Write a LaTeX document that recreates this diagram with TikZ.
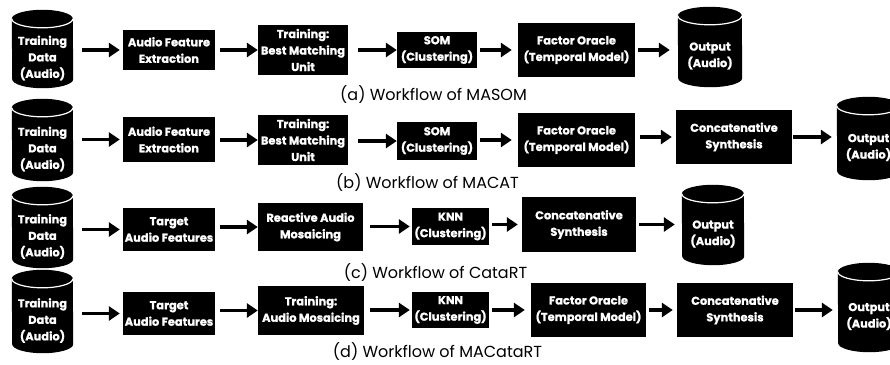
\documentclass[tikz,border=0pt]{standalone}
\usepackage{fontspec}
\setmainfont{Poppins}[BoldFeatures={FakeBold=1}]
\usetikzlibrary{arrows.meta,backgrounds}
\tikzset{
  x=1pt, y=-1pt,
  txt/.style={text=white, font=\bfseries\fontsize{11.4}{16.5}\selectfont, align=center, inner sep=0pt},
  box/.style={txt, fill=black},
  arr/.style={line width=3.6pt, -{Triangle[length=11pt,width=14pt]}},
  captxt/.style={font=\fontsize{16}{18}\selectfont, inner sep=0pt}
}
% name, cx, cy, w, h, text
\newcommand\mybox[6]{\node[box, minimum width=#4pt, minimum height=#5pt] (#1) at (#2,#3) {#6};}
% name, left, right, top, bottom, text
\newcommand\mycyl[6]{%
  \node[txt, minimum width={#3pt-#2pt}, minimum height={#5pt-#4pt-18pt}] (#1) at ({(#2+#3)/2},{(#4+18+#5)/2}) {#6};
  \begin{scope}[on background layer]
    \fill ([yshift=9pt]#1.north west) arc[start angle=180,end angle=0,x radius={(#3pt-#2pt)/2},y radius=9pt]
      -- ([yshift=9pt]#1.south east) arc[start angle=0,end angle=-180,x radius={(#3pt-#2pt)/2},y radius=9pt] -- cycle;
    \draw[white, line width=1.2pt] ([yshift=9pt]#1.north west) arc[start angle=180,end angle=360,x radius={(#3pt-#2pt)/2},y radius=9pt];
  \end{scope}}
% from, to, shorten start, shorten end
\newcommand\bb[4]{\draw[arr, shorten <=#3pt, shorten >=#4pt] (#1.east |- #2.west) -- (#2.west);}
\newcommand\bc[4]{\draw[arr, shorten <=#3pt, shorten >=#4pt] (#1.east) -- (#1.east -| #2.west);}
\begin{document}
\begin{tikzpicture}
\useasboundingbox (0,0) rectangle (890,364);
% ---- row a
\mycyl{ain}{12}{73}{10}{88}{Training\\Data\\(Audio)}
\mybox{a1}{169}{50}{92}{40}{Audio Feature\\Extraction}
\mybox{a2}{303}{50}{90}{50}{Training:\\Best Matching\\Unit}
\mybox{a3}{437}{50}{80}{36}{SOM\\(Clustering)}
\mybox{a4}{576.5}{50}{117}{54}{Factor Oracle\\(Temporal Model)}
\mycyl{aout}{678}{742}{7}{87}{Output\\(Audio)}
\bb{ain}{a1}{9}{3}
\bb{a1}{a2}{5}{0}
\bb{a2}{a3}{10}{0}
\bb{a3}{a4}{3}{6}
\bc{a4}{aout}{3}{8}
\node[captxt] (capa) at (433.5,95) {(a) Workflow of MASOM};
% ---- row b
\mycyl{bin}{12}{73}{99}{181}{Training\\Data\\(Audio)}
\mybox{b1}{169}{139.5}{92}{45}{Audio Feature\\Extraction}
\mybox{b2}{303}{140}{90}{50}{Training:\\Best Matching\\Unit}
\mybox{b3}{437}{141}{80}{38}{SOM\\(Clustering)}
\mybox{b4}{576.5}{140}{117}{54}{Factor Oracle\\(Temporal Model)}
\mybox{b5}{734}{137}{116}{54}{Concatenative\\Synthesis}
\mycyl{bout}{837}{900}{97}{180}{Output\\(Audio)}
\bb{bin}{b1}{9}{3}
\bb{b1}{b2}{5}{0}
\bb{b2}{b3}{10}{0}
\bb{b3}{b4}{3}{6}
\bb{b4}{b5}{5}{4}
\bc{b5}{bout}{1}{5}
\node[captxt] (capb) at (427.5,183) {(b) Workflow of MACAT};
% ---- row c
\mycyl{cin}{12}{73}{187}{268}{Training\\Data\\(Audio)}
\mybox{c1}{169}{229.5}{92}{43}{Target\\Audio Features}
\mybox{c2}{310.5}{227}{105}{48}{Reactive Audio\\Mosaicing}
\mybox{c3}{450.5}{226.5}{77}{37}{KNN\\(Clustering)}
\mybox{c4}{579}{224.5}{114}{55}{Concatenative\\Synthesis}
\mycyl{cout}{682}{744}{185}{265}{Output\\(Audio)}
\bb{cin}{c1}{9}{3}
\bb{c1}{c2}{5}{0}
\bb{c2}{c3}{7}{2}
\bb{c3}{c4}{3}{4}
\bc{c4}{cout}{3}{7}
\node[captxt] (capc) at (435.5,273) {(c) Workflow of CataRT};
% ---- row d
\mycyl{din}{12}{73}{270}{353}{Training\\Data\\(Audio)}
\mybox{d1}{169}{313.5}{92}{43}{Target\\Audio Features}
\mybox{d2}{311}{310.5}{106}{49}{Training:\\Audio Mosaicing}
\mybox{d3}{450.5}{310}{77}{36}{KNN\\(Clustering)}
\mybox{d4}{588.5}{310}{115}{54}{Factor Oracle\\(Temporal Model)}
\mybox{d5}{735}{310}{116}{54}{Concatenative\\Synthesis}
\mycyl{dout}{838}{900}{263}{352}{Output\\(Audio)}
\bb{din}{d1}{9}{3}
\bb{d1}{d2}{5}{0}
\bb{d2}{d3}{6}{2}
\bb{d3}{d4}{3}{6}
\bb{d4}{d5}{3}{4}
\bc{d5}{dout}{2}{5}
\node[captxt] (capd) at (437.5,352) {(d) Workflow of MACataRT};
\end{tikzpicture}
\end{document}
